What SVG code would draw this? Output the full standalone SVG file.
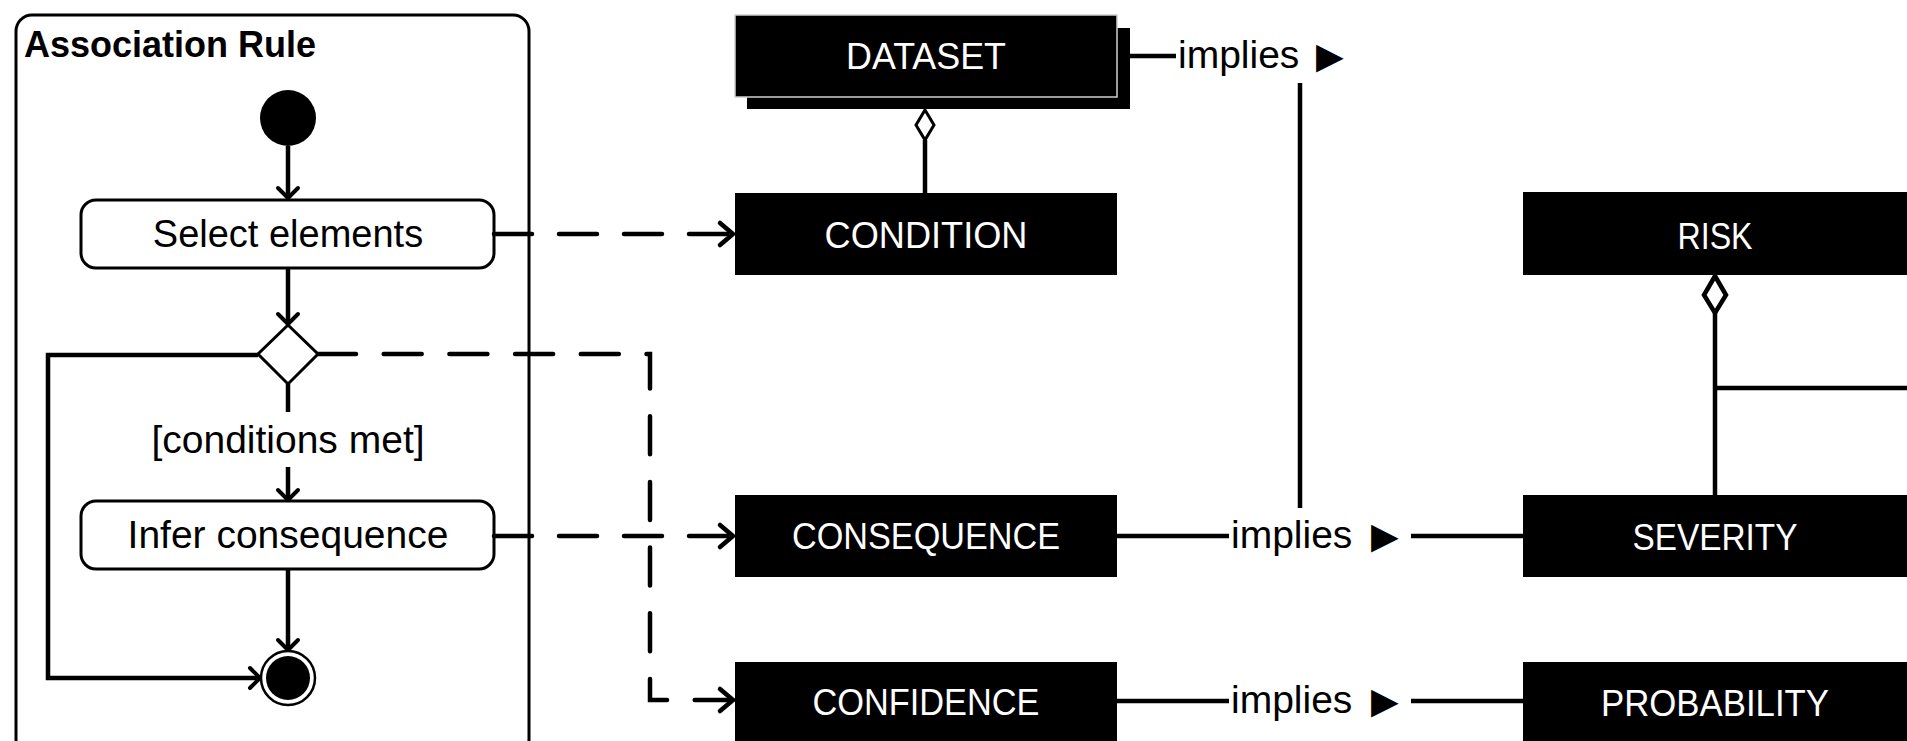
<svg xmlns="http://www.w3.org/2000/svg" width="1907" height="741" viewBox="0 0 1907 741">
<style>
.t{font-family:"Liberation Sans",Arial,sans-serif;fill:#000}
.lbl{font-family:"Liberation Sans",Arial,sans-serif;fill:#fff;font-size:37px;text-anchor:middle}
.act{fill:#fff;stroke:#000;stroke-width:3}
.blk{fill:#000}
.ln{fill:none;stroke:#000;stroke-width:4.5}
.dash{fill:none;stroke:#000;stroke-width:4.5;stroke-linecap:round;stroke-dasharray:38 27}
.tri{font-family:"DejaVu Sans",sans-serif}
</style>
<defs>
<marker id="aS" markerUnits="userSpaceOnUse" viewBox="-14 -14 18 28" markerWidth="18" markerHeight="28" refX="0" refY="0" orient="auto" overflow="visible">
<path d="M-10,-10 L0,0 L-10,10" fill="none" stroke="#000" stroke-width="4" stroke-linecap="round" stroke-linejoin="round"/>
</marker>
<marker id="aL" markerUnits="userSpaceOnUse" viewBox="-20 -16 24 32" markerWidth="24" markerHeight="32" refX="0" refY="0" orient="auto" overflow="visible">
<path d="M-13,-11 L0,0 L-13,11" fill="none" stroke="#000" stroke-width="4.5" stroke-linecap="round" stroke-linejoin="round"/>
</marker>
</defs>
<rect width="1907" height="741" fill="#fff"/>

<g id="association-rule">
<rect x="16" y="15" width="513" height="740" rx="16" fill="#fff" stroke="#000" stroke-width="3"/>
<text class="t" x="24" y="57" font-size="36" font-weight="bold">Association Rule</text>
</g>

<g id="initial"><circle cx="288" cy="118" r="28" class="blk"/></g>
<g id="select-elements">
<rect x="81" y="200" width="413" height="68" rx="15" class="act"/>
<text class="t" x="288" y="247" font-size="38" text-anchor="middle">Select elements</text>
</g>
<g id="decision"><polygon points="288,325 318,354 288,384 258,354" class="act"/></g>
<g id="guard"><text class="t" x="288" y="453" font-size="39" text-anchor="middle">[conditions met]</text></g>
<g id="infer-consequence">
<rect x="81" y="501" width="413" height="68" rx="15" class="act"/>
<text class="t" x="288" y="548" font-size="39" text-anchor="middle">Infer consequence</text>
</g>
<g id="final">
<circle cx="288" cy="678" r="27" fill="#fff" stroke="#000" stroke-width="2.5"/>
<circle cx="288" cy="678" r="22" class="blk"/>
</g>

<g id="dataset">
<rect x="747" y="28" width="383" height="81" class="blk"/>
<rect x="735" y="15" width="382" height="82" class="blk" stroke="#d0d0d0" stroke-width="1.5"/>
<text class="lbl" x="926" y="69" textLength="160" lengthAdjust="spacingAndGlyphs">DATASET</text>
</g>
<g id="condition">
<rect x="735" y="193" width="382" height="82" class="blk"/>
<text class="lbl" x="926" y="248" textLength="203" lengthAdjust="spacingAndGlyphs">CONDITION</text>
</g>
<g id="consequence">
<rect x="735" y="495" width="382" height="82" class="blk"/>
<text class="lbl" x="926" y="549" textLength="268" lengthAdjust="spacingAndGlyphs">CONSEQUENCE</text>
</g>
<g id="confidence">
<rect x="735" y="662" width="382" height="90" class="blk"/>
<text class="lbl" x="926" y="715" textLength="227" lengthAdjust="spacingAndGlyphs">CONFIDENCE</text>
</g>
<g id="risk">
<rect x="1523" y="192" width="400" height="83" class="blk"/>
<text class="lbl" x="1715" y="249" textLength="75" lengthAdjust="spacingAndGlyphs">RISK</text>
</g>
<g id="severity">
<rect x="1523" y="495" width="400" height="82" class="blk"/>
<text class="lbl" x="1715" y="550" textLength="165" lengthAdjust="spacingAndGlyphs">SEVERITY</text>
</g>
<g id="probability">
<rect x="1523" y="662" width="400" height="90" class="blk"/>
<text class="lbl" x="1715" y="716" textLength="228" lengthAdjust="spacingAndGlyphs">PROBABILITY</text>
</g>

<g id="connectors">
<path class="ln" d="M288,146 V198" marker-end="url(#aS)"/>
<path class="ln" d="M288,268 V324" marker-end="url(#aS)"/>
<path class="ln" d="M288,384 V412"/>
<path class="ln" d="M288,467 V500" marker-end="url(#aS)"/>
<path class="ln" d="M288,569 V650" marker-end="url(#aS)"/>
<path class="ln" d="M258,355 H48 V678 H260" stroke-width="6.5" marker-end="url(#aS)"/>

<path class="dash" d="M494,234 H733" marker-end="url(#aL)"/>
<path class="dash" d="M494,536 H733" marker-end="url(#aL)"/>
<path class="dash" d="M318,354 H650 V700 H733" style="stroke-dasharray:38 27.7" marker-end="url(#aL)"/>

<polygon points="925,110 934,125 925,140 916,125" fill="#fff" stroke="#000" stroke-width="3"/>
<path class="ln" d="M925,140 V193" stroke-width="4"/>
<polygon points="1715,276 1726,295 1715,313 1704,295" fill="#fff" stroke="#000" stroke-width="4.5"/>
<path class="ln" d="M1715,313 V495" stroke-width="5"/>
<path class="ln" d="M1715,388 H1907" stroke-width="5"/>

<path class="ln" d="M1130,56 H1176"/>
<text class="t" x="1178" y="68" font-size="39">implies <tspan class="tri" x="1316" font-size="36">▶</tspan></text>
<path class="ln" d="M1300,83 V508" stroke-width="5.5"/>
<path class="ln" d="M1117,536 H1229"/>
<text class="t" x="1231" y="548" font-size="39">implies <tspan class="tri" x="1371" font-size="36">▶</tspan></text>
<path class="ln" d="M1411,536 H1523"/>
<path class="ln" d="M1117,701 H1229"/>
<text class="t" x="1231" y="713" font-size="39">implies <tspan class="tri" x="1371" font-size="36">▶</tspan></text>
<path class="ln" d="M1411,701 H1523"/>
</g>
</svg>
